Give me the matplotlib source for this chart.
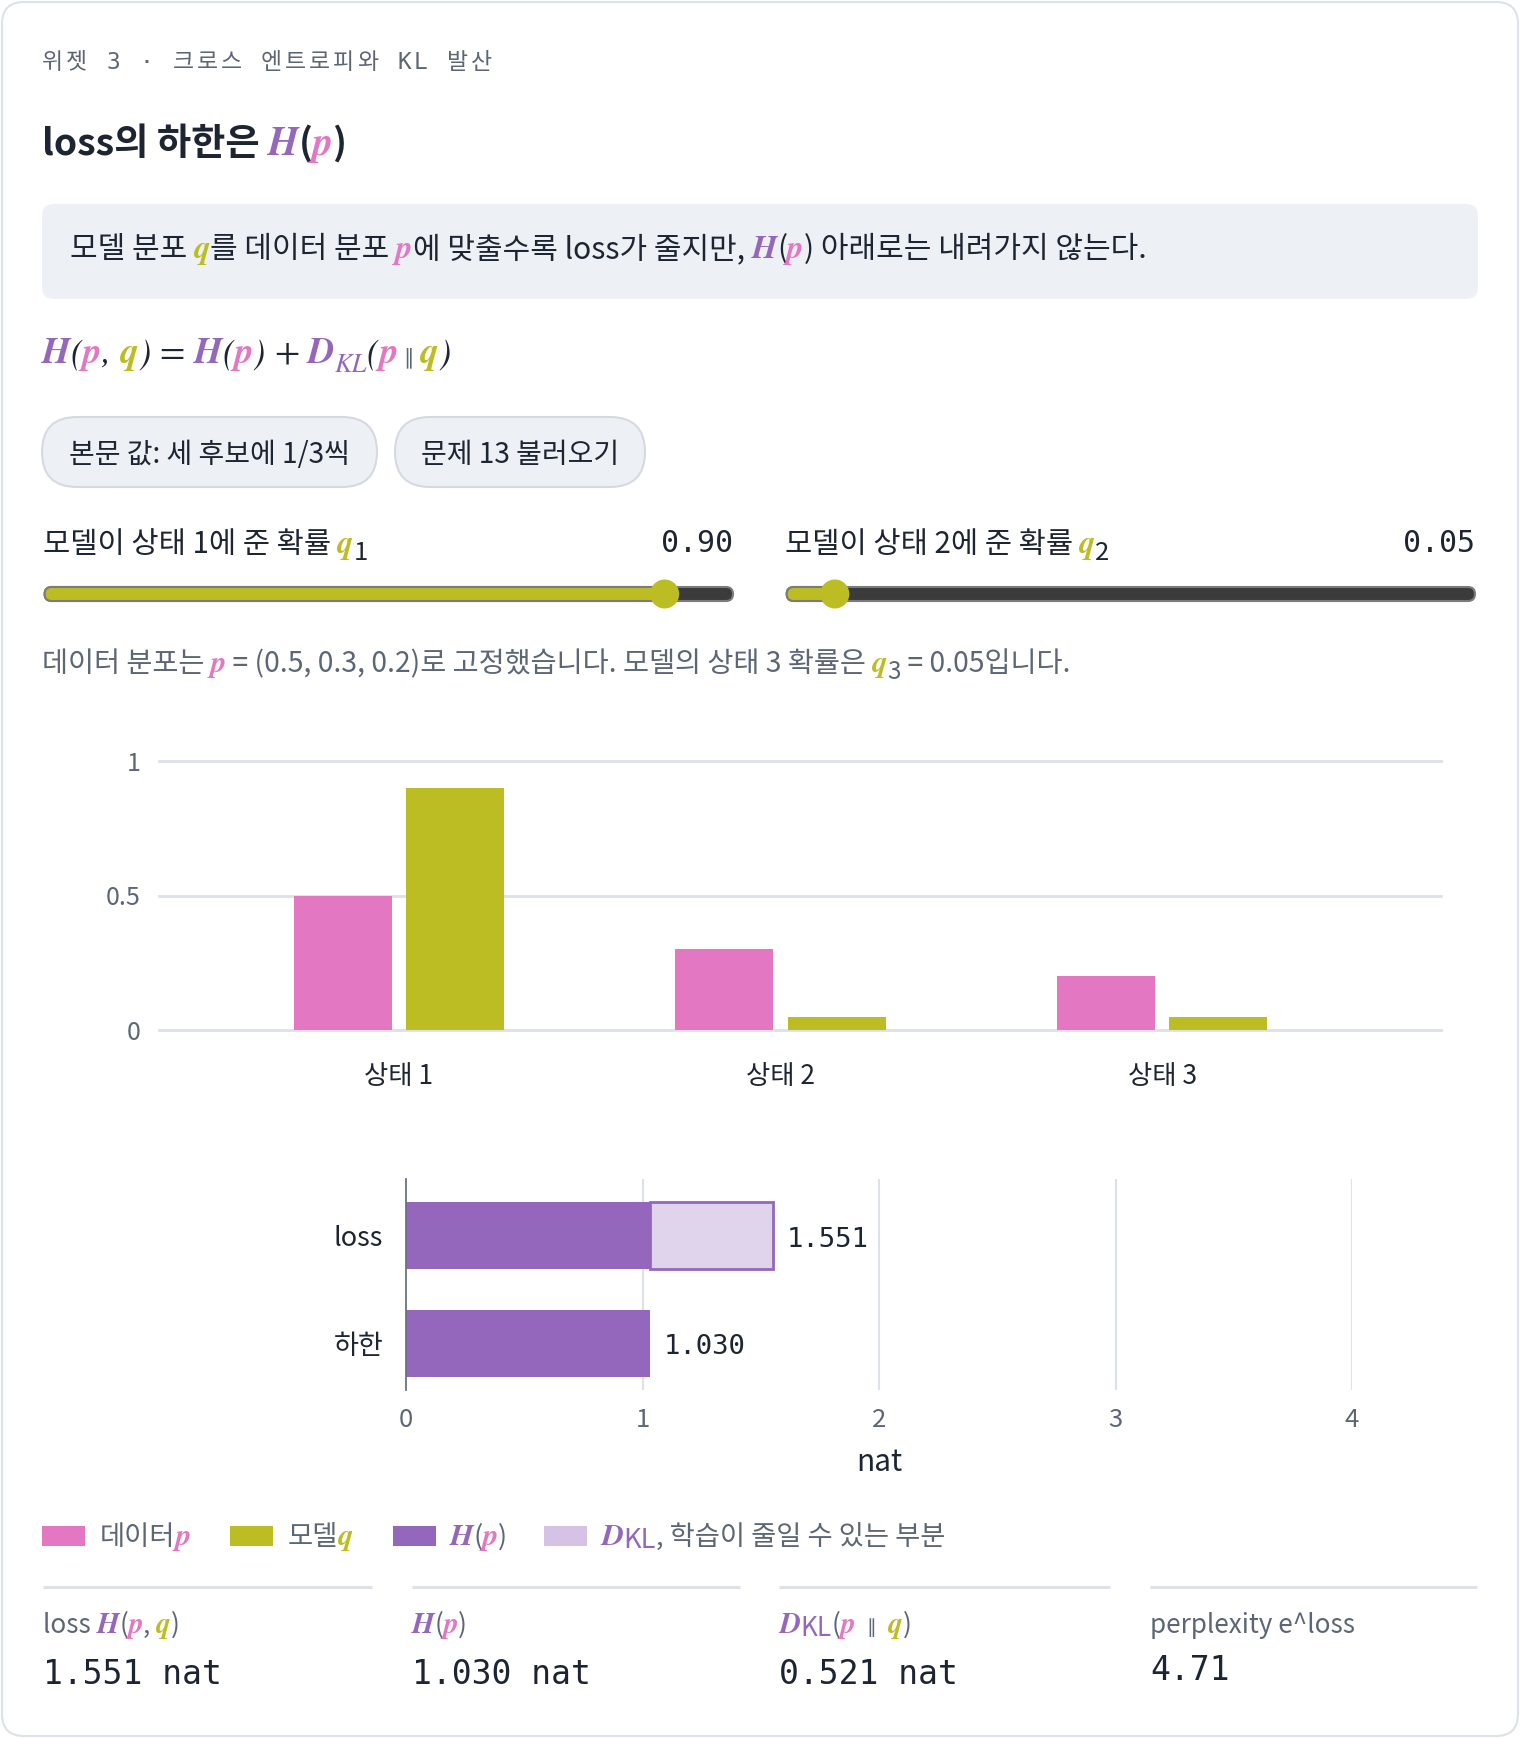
import matplotlib
matplotlib.use("Agg")
import matplotlib.pyplot as plt
import numpy as np
from matplotlib.patches import FancyBboxPatch, Rectangle, Circle

plt.rcParams['font.family'] = ['Noto Sans CJK KR', 'DejaVu Sans']

# ---- data ----
states = ['상태 1', '상태 2', '상태 3']
p_data = [0.5, 0.3, 0.2]
q_model = [0.90, 0.05, 0.05]
bar_labels = ['하한', 'loss']
nat_ticks = [0, 1, 2, 3, 4]
prob_ticks = [0, 0.5, 1]
prob_tick_labels = ['0', '0.5', '1']
slider_range = (0.0, 0.98)

p = np.array(p_data)
q = np.array(q_model)
h_p = -np.sum(p * np.log(p))
ce = -np.sum(p * np.log(q))
kl = ce - h_p
ppl = np.exp(ce)

# ---- colors ----
PINK = '#e377c2'
OLIVE = '#bcbd22'
PURPLE = '#9467bd'
LILAC = '#e0d3ec'
LILAC_LEG = '#d5c2e4'
DARK = '#1e2532'
GRAY = '#5c6675'
GRID = '#dde1e8'
BOXBG = '#edf0f5'

KR = ['Noto Sans CJK KR', 'DejaVu Sans']
MONO = ['DejaVu Sans Mono', 'Noto Sans CJK KR']
STIX = ['STIXGeneral', 'DejaVu Serif']

W, H, DPI = 1520, 1738, 100
fig = plt.figure(figsize=(W / DPI, H / DPI), dpi=DPI, facecolor='white')
renderer = fig.canvas.get_renderer()

bg = fig.add_axes([0, 0, 1, 1])
bg.set_xlim(0, W)
bg.set_ylim(H, 0)
bg.axis('off')


def text_w(s, **kw):
    a = fig.text(0, 0, '|' + s + '|', **kw)
    b = fig.text(0, 0, '||', **kw)
    w = a.get_window_extent(renderer).width - b.get_window_extent(renderer).width
    a.remove()
    b.remove()
    return w


def m(s, c, **o):
    d = dict(family=STIX, style='italic', weight='bold', color=c)
    d.update(o)
    return (s, d)


def rich(x, y, pieces, size, color=DARK, weight='normal', track=0):
    for pc in pieces:
        if isinstance(pc, (int, float)):
            x += pc
            continue
        s, o = (pc, {}) if isinstance(pc, str) else pc
        kw = dict(family=o.get('family', KR), fontsize=o.get('size', size),
                  color=o.get('color', color), fontweight=o.get('weight', weight),
                  fontstyle=o.get('style', 'normal'))
        if track:
            for ch in s:
                fig.text(x / W, 1 - y / H, ch, va='baseline', ha='left', **kw)
                x += text_w(ch, **kw) + track
        else:
            fig.text(x / W, 1 - (y + o.get('dy', 0)) / H, s, va='baseline', ha='left', **kw)
            x += text_w(s, **kw)
    return x


# ---- card + header ----
bg.add_patch(FancyBboxPatch((2, 2), W - 4, H - 4, boxstyle='round,pad=0,rounding_size=22',
                            fc='white', ec='#dde2e8', lw=1.5))
rich(42, 69, [('위젯 3 · 크로스 엔트로피와 KL 발산', dict(family=MONO))], 16.5, color=GRAY, track=2.8)

rich(42, 155, ['loss의 하한은', 8, m('H', PURPLE, size=28.5), '(', m('p', PINK, size=28.5), ')'],
     26.8, weight='bold')

bg.add_patch(FancyBboxPatch((42, 204), 1436, 95, boxstyle='round,pad=0,rounding_size=12',
                            fc=BOXBG, ec='none'))
rich(70, 258, ['모델 분포 ', m('q', OLIVE, size=23.5), '를 데이터 분포 ', m('p', PINK, size=23.5),
               '에 맞출수록 loss가 줄지만, ', m('H', PURPLE, size=23.5), '(', m('p', PINK, size=23.5),
               ') 아래로는 내려가지 않는다.'], 21.6, weight='medium')

# formula
par = dict(family=STIX, style='italic', color=DARK)
rich(42, 363, [m('H', PURPLE), ('(', par), m('p', PINK), (', ', par), m('q', OLIVE), (')', par),
               9, ('=', dict(family=STIX)), 9, m('H', PURPLE), ('(', par), m('p', PINK), (')', par),
               9, ('+', dict(family=STIX)), 9, m('D', PURPLE),
               ('KL', dict(family=STIX, style='italic', color=PURPLE, size=19, dy=9)),
               ('(', par), m('p', PINK), 6, ('∥', dict(family='DejaVu Sans', size=15, color=GRAY)), 6,
               m('q', OLIVE), (')', par)], 26.5)

# buttons
for (x0, x1), label in zip([(42, 377), (395, 645)], ['본문 값: 세 후보에 1/3씩', '문제 13 불러오기']):
    bg.add_patch(FancyBboxPatch((x0, 417), x1 - x0, 70, boxstyle='round,pad=0,rounding_size=35',
                                fc=BOXBG, ec='#d5dae2', lw=1.5))
    fig.text((x0 + x1) / 2 / W, 1 - 463 / H, label, ha='center', va='baseline', fontsize=20.2, color=DARK)

# sliders
for i, (x0, x1) in enumerate([(44.6, 733), (786.7, 1475)]):
    val = q_model[i]
    rich(x0 - 2, 553, ['모델이 상태 %d에 준 확률 ' % (i + 1), m('q', OLIVE, size=23),
                       (str(i + 1), dict(dy=7, size=18.5))], 21.3)
    fig.text(x1 / W, 1 - 552 / H, f'{val:.2f}', ha='right', va='baseline', family=MONO,
             fontsize=21.5, color=DARK)
    r = 14.5
    frac = (val - slider_range[0]) / (slider_range[1] - slider_range[0])
    cx = x0 + r + frac * (x1 - x0 - 2 * r)
    bg.add_patch(FancyBboxPatch((x0, 587), x1 - x0, 14, boxstyle='round,pad=0,rounding_size=7',
                                fc='#3b3b3b', ec='#7b7b7b', lw=1.5, zorder=2))
    bg.add_patch(FancyBboxPatch((x0, 587), cx - x0, 14, boxstyle='round,pad=0,rounding_size=7',
                                fc=OLIVE, ec='#7b7b7b', lw=1.5, zorder=3))
    bg.add_patch(Circle((cx, 594), r, fc=OLIVE, ec='none', zorder=4))

rich(42, 672, ['데이터 분포는 ', m('p', PINK, size=22),
               ' = (%s, %s, %s)로 고정했습니다. 모델의 상태 3 확률은 ' % tuple(f'{v:g}' for v in p_data),
               m('q', OLIVE, size=22), ('3', dict(dy=7, size=17.5)), f' = {q_model[2]:.2f}입니다.'],
     20.4, color=GRAY)

# ---- probability bar chart ----
ax1 = fig.add_axes([159 / W, 1 - 1030 / H, (1441 - 159) / W, (1030 - 761) / H])
ax1.patch.set_alpha(0)
x = np.arange(len(states))
ax1.bar(x - 0.147, p_data, 0.257, color=PINK, zorder=2)
ax1.bar(x + 0.147, q_model, 0.257, color=OLIVE, zorder=2)
ax1.set_xlim(-0.629, 2.731)
ax1.set_ylim(0, 1)
for v in prob_ticks:
    ax1.axhline(v, color=GRID, lw=2, zorder=1, clip_on=False)
ax1.set_yticks(prob_ticks, prob_tick_labels)
ax1.set_xticks(x, states)
ax1.tick_params(length=0, labelsize=18, labelcolor=GRAY)
ax1.tick_params(axis='y', pad=13)
ax1.tick_params(axis='x', pad=23.5, labelcolor=DARK, labelsize=19)
for sp in ax1.spines.values():
    sp.set_visible(False)

# ---- nat bar chart ----
ax2 = fig.add_axes([406 / W, 1 - 1390 / H, (1352 - 406) / W, (1390 - 1179) / H])
ax2.patch.set_alpha(0)
ax2.set_xlim(0, 4)
ax2.set_ylim(-0.437, 1.526)
for v in nat_ticks[1:]:
    ax2.axvline(v, color=GRID, lw=1.5, zorder=0)
ax2.barh(0, h_p, 0.623, color=PURPLE, zorder=2)
ax2.barh(1, h_p, 0.623, color=PURPLE, zorder=2)
ax2.barh(1, kl, 0.623, left=h_p, color=LILAC, edgecolor=PURPLE, lw=2, zorder=2)
for yy, tot in [(0, h_p), (1, ce)]:
    ax2.annotate(f'{tot:.3f}', (tot, yy), xytext=(10, -3.2), textcoords='offset points',
                 va='center', ha='left', family=MONO, fontsize=19.6, color=DARK)
ax2.set_yticks([0, 1], bar_labels)
ax2.set_xticks(nat_ticks, [str(t) for t in nat_ticks])
ax2.tick_params(length=0, labelsize=19.5)
ax2.tick_params(axis='y', pad=16.5, labelcolor=DARK)
ax2.tick_params(axis='x', pad=12, labelcolor=GRAY, labelsize=18.5)
ax2.set_xlabel('nat', fontsize=21.5, color=DARK, labelpad=10)
for k, sp in ax2.spines.items():
    sp.set_visible(k == 'left')
ax2.spines['left'].set_color('#6b7280')
ax2.spines['left'].set_linewidth(1.3)

# ---- legend ----
leg = [
    (42, PINK, 100, ['데이터', m('p', PINK, size=22)]),
    (230, OLIVE, 288, ['모델', m('q', OLIVE, size=22)]),
    (393, PURPLE, 450, [m('H', PURPLE, size=22), '(', m('p', PINK, size=22), ')']),
    (544, LILAC_LEG, 601, [m('D', PURPLE, size=22), ('KL', dict(color=PURPLE, dy=3)),
                           ', 학습이 줄일 수 있는 부분']),
]
for sx, col, tx, pcs in leg:
    bg.add_patch(Rectangle((sx, 1526), 43, 20, fc=col, ec='none'))
    rich(tx, 1545, pcs, 19.7, color=GRAY)

# ---- stats ----
stats = [
    (43, 372, ['loss ', m('H', PURPLE, size=21), '(', m('p', PINK, size=21), ', ',
               m('q', OLIVE, size=21), ')'], f'{ce:.3f} nat'),
    (412, 740, [m('H', PURPLE, size=21), '(', m('p', PINK, size=21), ')'], f'{h_p:.3f} nat'),
    (779, 1110, [m('D', PURPLE, size=21), ('KL', dict(color=PURPLE, dy=3)), '(', m('p', PINK, size=21),
                 12, ('∥', dict(family='DejaVu Sans', size=14)), 12, m('q', OLIVE, size=21), ')'],
     f'{kl:.3f} nat'),
    (1150, 1477, ['perplexity e^loss'], f'{ppl:.2f}'),
]
for x0, x1, pcs, val in stats:
    bg.plot([x0, x1], [1587, 1587], color=GRID, lw=2.2, solid_capstyle='butt')
    rich(x0, 1633, pcs, 18.8, color=GRAY)
    fig.text(x0 / W, 1 - (1684 if 'nat' in val else 1680) / H, val, family=MONO, fontsize=23.8,
             color=DARK, va='baseline', ha='left')

fig.savefig('out.png', dpi=DPI, facecolor='white')
